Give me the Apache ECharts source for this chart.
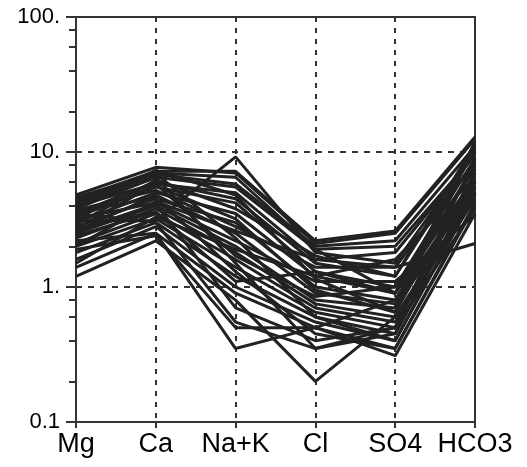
<!DOCTYPE html>
<html><head><meta charset="utf-8">
<script src="https://cdn.jsdelivr.net/npm/echarts@6/dist/echarts.min.js"></script>
<style>html,body{margin:0;padding:0;background:#fff}#c{width:527px;height:467px}</style>
</head><body><div id="c"></div>
<script>
const categories = ['Mg', 'Ca', 'Na+K', 'Cl', 'SO4', 'HCO3'];
const majorTicks = [0.1, 1, 10, 100];
const minorTicks = [0.2, 0.4, 0.6, 0.8, 2, 4, 6, 8, 20, 40, 60, 80];
// each sample: [Mg, Ca, Na+K, Cl, SO4, HCO3] (meq/L)
const s01 = [4.8, 7.7, 7.0, 2.1, 2.5, 12.5];
const s02 = [4.5, 7.2, 7.2, 2.2, 2.6, 12.9];
const s03 = [3.1, 3.1, 9.2, 1.8, 1.5, 10];
const s04 = [4.2, 6.8, 5.8, 2.0, 2.2, 11];
const s05 = [3.8, 6.5, 5.5, 1.9, 2.0, 9.5];
const s06 = [4.0, 5.8, 5.0, 1.6, 1.4, 8.5];
const s07 = [3.5, 6.0, 4.5, 1.5, 1.2, 10];
const s08 = [3.3, 5.5, 4.2, 1.3, 1.0, 7.5];
const s09 = [3.0, 5.0, 3.5, 1.2, 0.9, 6.5];
const s10 = [2.8, 4.5, 3.0, 1.0, 0.8, 8];
const s11 = [2.6, 4.8, 2.5, 0.9, 0.75, 6];
const s12 = [2.5, 4.0, 2.0, 0.8, 0.7, 5.5];
const s13 = [2.3, 3.8, 1.8, 0.75, 0.6, 5];
const s14 = [2.1, 3.5, 1.6, 0.7, 0.55, 4.5];
const s15 = [2.0, 3.2, 1.4, 0.65, 0.5, 7];
const s16 = [1.8, 3.0, 1.2, 0.6, 0.45, 6];
const s17 = [1.6, 2.8, 1.0, 0.55, 0.4, 4.8];
const s18 = [1.4, 2.5, 0.9, 0.5, 0.35, 4];
const s19 = [1.2, 2.2, 0.8, 0.2, 0.6, 5];
const s20 = [2.2, 2.5, 0.35, 0.5, 0.8, 6];
const s21 = [1.9, 2.4, 0.5, 0.5, 0.31, 3.5];
const s22 = [3.5, 3.0, 0.55, 0.35, 0.45, 5.5];
const s23 = [4.0, 6.5, 1.5, 0.35, 0.5, 9];
const s24 = [3.7, 5.2, 2.8, 1.4, 1.4, 2.1];
const s25 = [3.2, 4.2, 2.2, 1.1, 1.1, 3.4];
const s26 = [2.9, 6.2, 3.8, 1.7, 1.2, 11.5];
const s27 = [4.3, 7.0, 6.5, 1.9, 0.9, 10.5];
const s28 = [2.7, 5.8, 1.7, 0.85, 1.0, 9];
const s29 = [3.6, 4.6, 1.3, 0.45, 0.35, 4.2];
const s30 = [2.4, 3.6, 1.1, 1.3, 0.9, 8];
const s31 = [3.9, 7.3, 4.8, 1.15, 0.65, 7];
const s32 = [4.6, 6.9, 2.3, 0.6, 0.4, 5];
const s33 = [2.0, 4.3, 2.6, 1.6, 1.8, 9.5];
const s34 = [1.5, 3.3, 1.9, 1.2, 1.6, 6.5];
const s35 = [3.4, 5.6, 3.2, 0.95, 0.65, 12];
const s36 = [2.6, 4.1, 0.7, 0.4, 0.5, 3.8];
const samples = [s01,s02,s03,s04,s05,s06,s07,s08,s09,s10,s11,s12,s13,s14,s15,s16,s17,s18,
  s19,s20,s21,s22,s23,s24,s25,s26,s27,s28,s29,s30,s31,s32,s33,s34,s35,s36];

const chart = echarts.init(document.getElementById('c'));
const lineCol = '#222';
chart.setOption({
  animation: false,
  backgroundColor: '#fff',
  grid: { left: 76, right: 52, top: 17, bottom: 45, show: true, borderColor: '#333', borderWidth: 2, backgroundColor: 'transparent' },
  xAxis: {
    type: 'category', data: categories, boundaryGap: false,
    axisLine: { show: true, lineStyle: { color: '#333', width: 2 } },
    axisTick: { show: true, interval: 0, length: 6, lineStyle: { color: '#333', width: 2 } },
    axisLabel: { color: '#000', fontSize: 27, fontFamily: 'Liberation Sans, Arial', margin: 9, interval: 0 },
    splitLine: { show: true, interval: 0, lineStyle: { color: '#333', width: 2, type: [5, 6] } }
  },
  yAxis: [{
    type: 'log', logBase: 10, min: 0.1, max: 100,
    axisLine: { show: true, lineStyle: { color: '#333', width: 2 } },
    axisTick: { show: true, length: 10, lineStyle: { color: '#333', width: 2 } },
    axisLabel: { color: '#000', fontSize: 22, fontFamily: 'Liberation Sans, Arial', margin: 16,
      formatter: v => (v >= 1 ? String(Math.round(v)) + '.' : String(v)) },
    splitLine: { show: true, lineStyle: { color: '#333', width: 2, type: [6, 6] } }
  }, {
    type: 'log', logBase: 10, min: 0.1, max: 100, position: 'left',
    axisLine: { show: false },
    axisTick: { show: true, length: 7, customValues: minorTicks, lineStyle: { color: '#333', width: 2 } },
    axisLabel: { show: false },
    splitLine: { show: false }
  }],
  series: samples.map((d, i) => ({
    type: 'line', name: 'S' + (i + 1), data: d, yAxisIndex: 0,
    symbol: 'none', silent: true,
    lineStyle: { color: lineCol, width: 3 }
  }))
});
</script></body></html>
